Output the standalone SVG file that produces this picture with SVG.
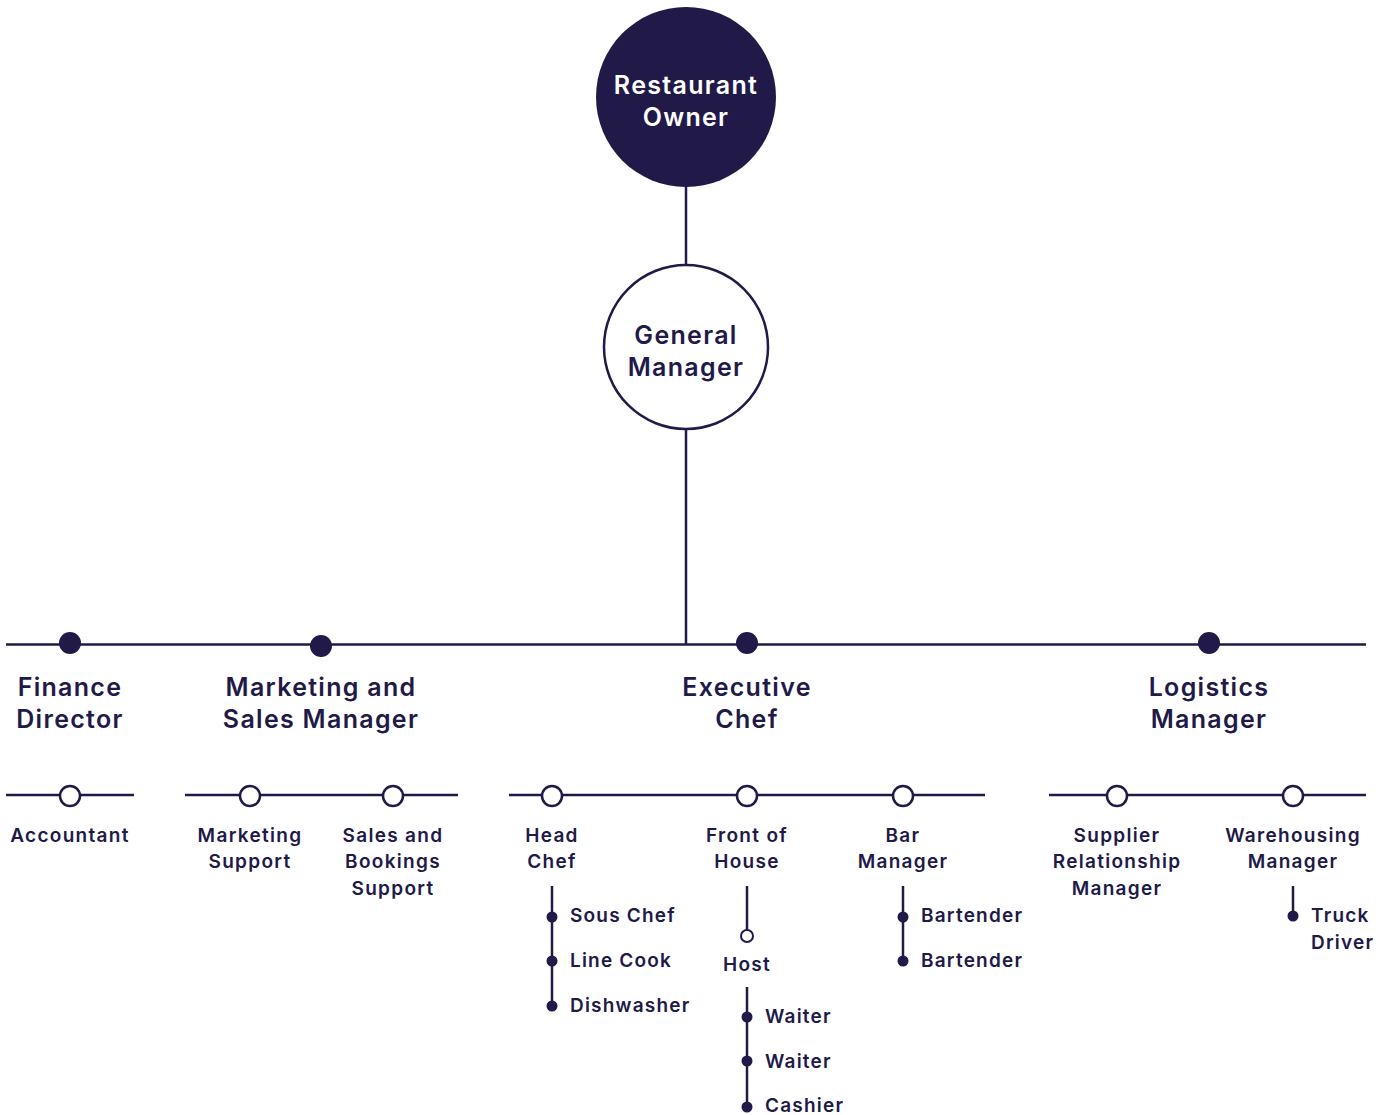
<svg xmlns="http://www.w3.org/2000/svg" width="1391" height="1115" viewBox="0 0 1391 1115">
<style>
.ln{stroke:#211a48;stroke-width:2.5;fill:none}
.dot{fill:#211a48}
.open{fill:#fff;stroke:#211a48;stroke-width:2.5}
text{font-family:"Inter","Liberation Sans",sans-serif;font-weight:600;fill:#211a48}
.t1{font-size:25px;text-anchor:middle;letter-spacing:1.3px}
.t2{font-size:19px;text-anchor:middle;letter-spacing:1.3px}
.t3{font-size:19px;letter-spacing:1.2px}
.w{fill:#fff}
</style>
<rect width="1391" height="1115" fill="#fff"/>
<g id="connectors">
<line class="ln" x1="686" y1="187" x2="686" y2="265"/>
<line class="ln" x1="686" y1="429" x2="686" y2="645"/>
<line class="ln" x1="6" y1="644.500" x2="1366" y2="644.500"/>
<line class="ln" x1="6" y1="795" x2="134" y2="795"/>
<line class="ln" x1="185" y1="795" x2="458" y2="795"/>
<line class="ln" x1="509" y1="795" x2="985" y2="795"/>
<line class="ln" x1="1049" y1="795" x2="1366" y2="795"/>
<line class="ln" x1="552" y1="886" x2="552" y2="1006"/>
<line class="ln" x1="747" y1="886" x2="747" y2="930"/>
<line class="ln" x1="747" y1="987" x2="747" y2="1107"/>
<line class="ln" x1="903" y1="886" x2="903" y2="961"/>
<line class="ln" x1="1293" y1="886" x2="1293" y2="916"/>
</g>
<g id="owner"><circle cx="686" cy="97" r="90" class="dot"/><text class="t1 w" x="686" y="94">Restaurant</text><text class="t1 w" x="686" y="126">Owner</text></g>
<g id="gm"><circle cx="686" cy="347" r="82" class="open"/><text class="t1" x="686" y="344">General</text><text class="t1" x="686" y="376">Manager</text></g>
<g id="finance"><circle cx="70" cy="643" r="11" class="dot"/><text class="t1" x="70" y="696">Finance</text><text class="t1" x="70" y="728">Director</text></g>
<g id="marketing"><circle cx="321" cy="646" r="11" class="dot"/><text class="t1" x="321" y="696">Marketing and</text><text class="t1" x="321" y="728">Sales Manager</text></g>
<g id="exec"><circle cx="747" cy="643" r="11" class="dot"/><text class="t1" x="747" y="696">Executive</text><text class="t1" x="747" y="728">Chef</text></g>
<g id="logistics"><circle cx="1209" cy="643" r="11" class="dot"/><text class="t1" x="1209" y="696">Logistics</text><text class="t1" x="1209" y="728">Manager</text></g>
<g id="accountant"><circle cx="70" cy="796" r="10" class="open"/><text class="t2" x="70" y="842">Accountant</text></g>
<g id="mktsupport"><circle cx="250" cy="796" r="10" class="open"/><text class="t2" x="250" y="842">Marketing</text><text class="t2" x="250" y="868">Support</text></g>
<g id="salessupport"><circle cx="393" cy="796" r="10" class="open"/><text class="t2" x="393" y="842">Sales and</text><text class="t2" x="393" y="868">Bookings</text><text class="t2" x="393" y="895">Support</text></g>
<g id="headchef"><circle cx="552" cy="796" r="10" class="open"/><text class="t2" x="552" y="842">Head</text><text class="t2" x="552" y="868">Chef</text></g>
<g id="foh"><circle cx="747" cy="796" r="10" class="open"/><text class="t2" x="747" y="842">Front of</text><text class="t2" x="747" y="868">House</text></g>
<g id="bar"><circle cx="903" cy="796" r="10" class="open"/><text class="t2" x="903" y="842">Bar</text><text class="t2" x="903" y="868">Manager</text></g>
<g id="supplier"><circle cx="1117" cy="796" r="10" class="open"/><text class="t2" x="1117" y="842">Supplier</text><text class="t2" x="1117" y="868">Relationship</text><text class="t2" x="1117" y="895">Manager</text></g>
<g id="warehouse"><circle cx="1293" cy="796" r="10" class="open"/><text class="t2" x="1293" y="842">Warehousing</text><text class="t2" x="1293" y="868">Manager</text></g>
<g id="sous"><circle cx="552" cy="917" r="5.500" class="dot"/><text class="t3" x="570" y="922">Sous Chef</text></g>
<g id="linecook"><circle cx="552" cy="961" r="5.500" class="dot"/><text class="t3" x="570" y="967">Line Cook</text></g>
<g id="dish"><circle cx="552" cy="1006" r="5.500" class="dot"/><text class="t3" x="570" y="1012">Dishwasher</text></g>
<g id="host"><circle cx="747" cy="936" r="6" class="open" style="stroke-width:2"/><text class="t2" x="747" y="971">Host</text></g>
<g id="waiter1"><circle cx="747" cy="1017" r="5.500" class="dot"/><text class="t3" x="765" y="1023">Waiter</text></g>
<g id="waiter2"><circle cx="747" cy="1061" r="5.500" class="dot"/><text class="t3" x="765" y="1068">Waiter</text></g>
<g id="cashier"><circle cx="747" cy="1107" r="5.500" class="dot"/><text class="t3" x="765" y="1112">Cashier</text></g>
<g id="bartender1"><circle cx="903" cy="917" r="5.500" class="dot"/><text class="t3" x="921" y="922">Bartender</text></g>
<g id="bartender2"><circle cx="903" cy="961" r="5.500" class="dot"/><text class="t3" x="921" y="967">Bartender</text></g>
<g id="truck"><circle cx="1293" cy="916" r="5.500" class="dot"/><text class="t3" x="1311" y="922">Truck</text><text class="t3" x="1311" y="949">Driver</text></g>
</svg>
